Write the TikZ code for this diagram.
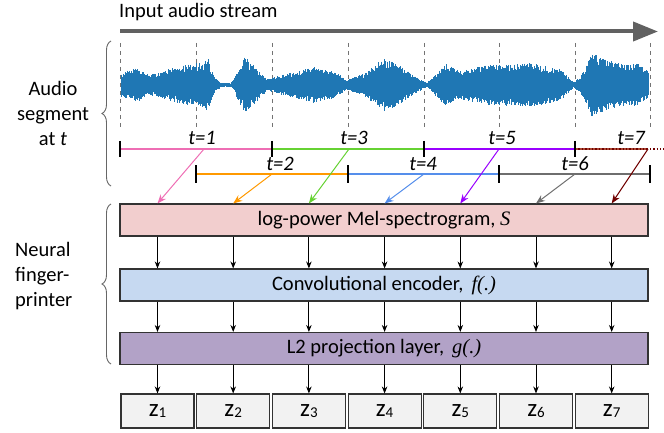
\documentclass[tikz,border=0pt]{standalone}
\usepackage{fontspec}
\setmainfont{Carlito}
\newfontfamily\timesfont{Liberation Serif}
\usetikzlibrary{arrows.meta,decorations.pathreplacing}

\definecolor{wavecol}{RGB}{31,119,180}
\definecolor{melfill}{RGB}{242,206,206}
\definecolor{convfill}{RGB}{198,217,241}
\definecolor{projfill}{RGB}{178,162,199}
\definecolor{zfill}{RGB}{242,242,242}
\definecolor{cpink}{RGB}{238,110,180}
\definecolor{corange}{RGB}{255,153,0}
\definecolor{cgreen}{RGB}{102,210,51}
\definecolor{cblue}{RGB}{85,142,235}
\definecolor{cpurple}{RGB}{153,0,255}
\definecolor{cgray}{RGB}{110,110,110}
\definecolor{cbrown}{RGB}{112,0,0}
\definecolor{cbrownline}{RGB}{170,70,50}

\begin{document}
\begin{tikzpicture}[x=1pt,y=-1pt]
    \tikzstyle{every node}=[font=\fontsize{20.5}{25}\selectfont, inner sep=0pt, text=black]
    \tikzstyle{layer}=[draw=black!80, line width=1.1pt, minimum width=528pt, minimum height=32pt]
    \tikzstyle{zbox}=[draw=black!80, line width=1.1pt, fill=zfill, minimum width=73pt, minimum height=34pt]
    \tikzstyle{stream}=[draw=black!62, line width=4pt, -{Triangle[length=25pt,width=19pt]}]
    \tikzstyle{wave}=[draw=wavecol, line width=0.7pt]
    \tikzstyle{cut}=[draw=black!55, line width=0.8pt, dash pattern=on 4pt off 4pt]
    \tikzstyle{seg}=[line width=1.4pt]
    \tikzstyle{tick}=[black, line width=1.2pt]
    \tikzstyle{feed}=[line width=1pt, -{Stealth[length=9pt,width=7pt]}]
    \tikzstyle{flow}=[black, line width=0.9pt, -{Stealth[length=7pt,width=5.5pt]}]
    \tikzstyle{group}=[draw=black!60, line width=0.9pt, decorate, decoration={brace, amplitude=9pt}]

    \useasboundingbox (0,0) rectangle (664,433);

    % input stream
    \node (title) [anchor=west] at (119,12) {Input audio stream};
    \coordinate (st0) at (120,31.5);
    \coordinate (st1) at (658,31.5);
    \draw[stream] (st0) -- (st1);

    % segment boundaries
    \foreach \i/\x in {0/120,1/196,2/272,3/348,4/424,5/499,6/575,7/650}
        \draw[cut] (\x,43) -- (\x,129);

    % waveform
    \pgfmathsetseed{11}
    \foreach \xa/\aa/\xb/\ab in {121/12/136/18, 136/18/149/10, 149/10/170/16, 170/16/183/20,
        183/20/198/22, 198/22/208/26, 208/26/214/8, 214/8/221/2, 221/2/231/2, 231/2/238/15,
        238/15/245/30, 245/30/255/18, 255/18/267/6, 267/6/274/8, 274/8/297/14, 297/14/314/18,
        314/18/335/14, 335/14/346/5, 346/5/365/12, 365/12/384/27, 384/27/399/20, 399/20/416/8,
        416/8/427/2, 427/2/446/22, 446/22/459/14, 459/14/488/20, 488/20/531/22, 531/22/560/16,
        560/16/573/3, 573/3/580/8, 580/8/592/32, 592/32/611/24, 611/24/628/20, 628/20/637/22,
        637/22/648/14}{
        \pgfmathtruncatemacro\n{2*(\xb-\xa)}
        \foreach \k in {0,...,\n}{
            \pgfmathsetmacro\xx{\xa+\k/2}
            \pgfmathsetmacro\am{\aa+(\ab-\aa)*\k/\n}
            \pgfmathsetmacro\up{\am*(0.6+0.4*rnd)}
            \pgfmathsetmacro\dn{\am*(0.6+0.4*rnd)}
            \draw[wave] (\xx,85-\up) -- (\xx,85+\dn);
        }
    }

    \coordinate (a0) at (120,149);
    \coordinate (a1) at (272,149);
    \coordinate (a2) at (424,149);
    \coordinate (a3) at (575,149);
    \coordinate (a4) at (648,149);
    \coordinate (a5) at (664,149);
    \coordinate (b0) at (196,174);
    \coordinate (b1) at (348,174);
    \coordinate (b2) at (499,174);
    \coordinate (b3) at (650,174);

    \draw[seg, cpink] (a0) -- (a1);
    \draw[seg, cgreen] (a1) -- (a2);
    \draw[seg, cpurple] (a2) -- (a3);
    \draw[seg, cbrownline] (a3) -- (a4);
    \draw[seg, cbrown, dotted] (a3) -- (a5);
    \draw[seg, corange] (b0) -- (b1);
    \draw[seg, cblue] (b1) -- (b2);
    \draw[seg, cgray] (b2) -- (b3);

    \foreach \p in {a0,a1,a2,a3}
        \draw[tick] ([yshift=8pt]\p) -- ([yshift=-8pt]\p);
    \foreach \p in {b0,b1,b2,b3}
        \draw[tick] ([yshift=8.5pt]\p) -- ([yshift=-8.5pt]\p);

    \node (t1) at (202,138) {\itshape t=1};
    \node (t3) at (354,138) {\itshape t=3};
    \node (t5) at (502,138) {\itshape t=5};
    \node (t7) at (631,138) {\itshape t=7};
    \node (t2) at (280,164) {\itshape t=2};
    \node (t4) at (423,164) {\itshape t=4};
    \node (t6) at (575,164) {\itshape t=6};

    \coordinate (m1) at (204,149);
    \coordinate (m2) at (272,174);
    \coordinate (m3) at (349,149);
    \coordinate (m4) at (424,174);
    \coordinate (m5) at (499,149);
    \coordinate (m6) at (575,174);
    \coordinate (m7) at (648,149);

    % network
    \node (mel) [layer, fill=melfill] at (384,220) {log-power Mel-spectrogram, {\timesfont\itshape S}};
    \node (conv) [layer, fill=convfill] at (384,285) {Convolutional encoder, \,{\timesfont\itshape f(.)}};
    \node (proj) [layer, fill=projfill] at (384,348.5) {L2 projection layer, \,{\timesfont\itshape g(.)}};

    \foreach \i in {1,...,7}
        \node (z\i) [zbox] at ({157.5+75.7*(\i-1)},411)
            {\fontsize{25}{25}\selectfont z\raisebox{-1.5pt}{\fontsize{15}{15}\selectfont\i}};

    \foreach \i/\c in {1/cpink,2/corange,3/cgreen,4/cblue,5/cpurple,6/cgray,7/cbrown}
        \draw[feed, \c] (m\i) -- (mel.north -| z\i);

    \foreach \i in {1,...,7}{
        \draw[flow] (mel.south -| z\i) -- (conv.north -| z\i);
        \draw[flow] (conv.south -| z\i) -- (proj.north -| z\i);
        \draw[flow] (proj.south -| z\i) -- (z\i.north);
    }

    % braces
    \coordinate (br0) at (111,186);
    \coordinate (br1) at (111,41);
    \coordinate (bn0) at (111,364);
    \coordinate (bn1) at (111,204);
    \draw[group] (br0) -- (br1);
    \draw[group] (bn0) -- (bn1);
    \node (seglabel) [align=center] at (53,113) {Audio\\segment\\at \textit{t}};
    \node (netlabel) [align=left, anchor=west] at (15,276) {Neural\\finger-\\printer};
\end{tikzpicture}
\end{document}
